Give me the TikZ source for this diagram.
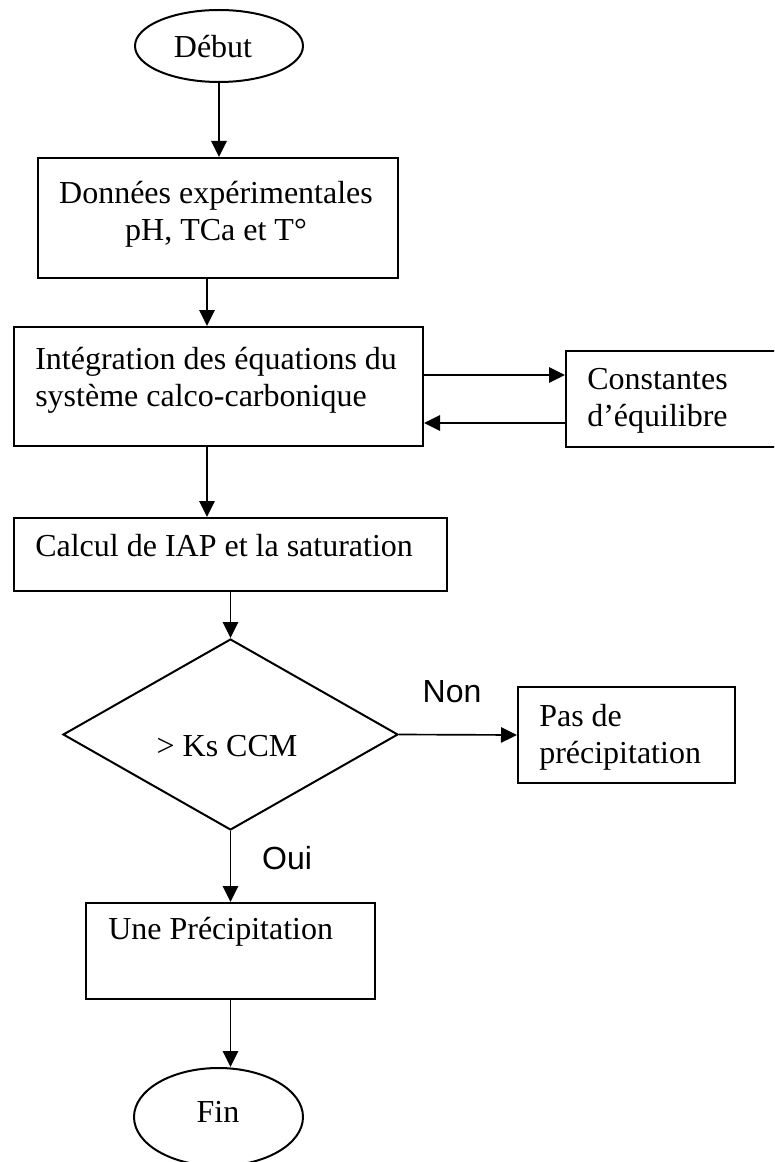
\documentclass[tikz,border=0pt]{standalone}
\usepackage{fontspec}
\setmainfont{Liberation Serif}
\newfontfamily\arialfont{Liberation Sans}
\usetikzlibrary{shapes.geometric,arrows.meta}
\tikzset{
  box/.style={draw, line width=1.5pt, inner sep=0pt},
  arr/.style={-{Triangle[length=12pt,width=11.5pt]}, line width=1.25pt},
  txt/.style={inner sep=0pt, font=\fontsize{24}{27.6}\selectfont},
  lab/.style={inner sep=0pt, font=\arialfont\fontsize{24}{27.6}\selectfont},
}
\begin{document}
\begin{tikzpicture}[x=0.75pt,y=-0.75pt]
\useasboundingbox (0,0) rectangle (774,1162);
\clip (0,0) rectangle (774,1162);
% shapes
\node[box, ellipse, minimum width=126pt, minimum height=54pt] (deb) at (219,46) {};
\node[box, minimum width=270pt, minimum height=90pt] (b1) at (218,218) {};
\node[box, minimum width=306.75pt, minimum height=89.25pt] (b2) at (218.5,386.5) {};
\node[box, minimum width=175.5pt, minimum height=72pt] (b3) at (683,399) {};
\node[box, minimum width=324.75pt, minimum height=54.75pt] (b4) at (230.5,554.5) {};
\node[box, diamond, minimum width=251.25pt, minimum height=143.25pt] (dia) at (230.5,734.5) {};
\node[box, minimum width=162.75pt, minimum height=72pt] (b5) at (626.5,735) {};
\node[box, minimum width=216.75pt, minimum height=72pt] (b6) at (230.5,951) {};
\node[box, ellipse, minimum width=126.75pt, minimum height=73.5pt] (fin) at (218.5,1117) {};
% texts
\node[txt] (tdeb) at (213,47) {Début};
\node[txt, align=center] (t1) at (216,214) {Données expérimentales\\pH, TCa et T°};
\node[txt, align=left, anchor=west] (t2) at (35,380) {Intégration des équations du\\système calco-carbonique};
\node[txt, align=left, anchor=west] (t3) at (587,401) {Constantes\\d’équilibre};
\node[txt, anchor=west] (t4) at (35,546) {Calcul de IAP et la saturation};
\node[txt] (t5) at (227,746) {> Ks CCM};
\node[lab] (non) at (452,692) {Non};
\node[txt, align=left, anchor=west] (t6) at (539,737) {Pas de\\précipitation};
\node[lab] (oui) at (287,858) {Oui};
\node[txt, anchor=west] (t7) at (108,932) {Une Précipitation};
\node[txt] (tfin) at (218,1112) {Fin};
% connectors
\coordinate (xa) at (207,0);
\coordinate (ya) at (0,375);
\coordinate (yb) at (0,423);
\draw[arr] (deb.south) -- (b1.north -| deb.south);
\draw[arr] (b1.south -| xa) -- (b2.north -| xa);
\draw[arr] (b2.east |- ya) -- (b3.west |- ya);
\draw[arr] (b3.west |- yb) -- (b2.east |- yb);
\draw[arr] (b2.south -| xa) -- (b4.north -| xa);
\draw[arr] (b4.south) -- (dia.north);
\draw[arr] (dia.east) -- (b5.west);
\draw[arr] (dia.south) -- (b6.north);
\draw[arr] (b6.south) -- (b6.south |- fin.north);
\end{tikzpicture}
\end{document}
